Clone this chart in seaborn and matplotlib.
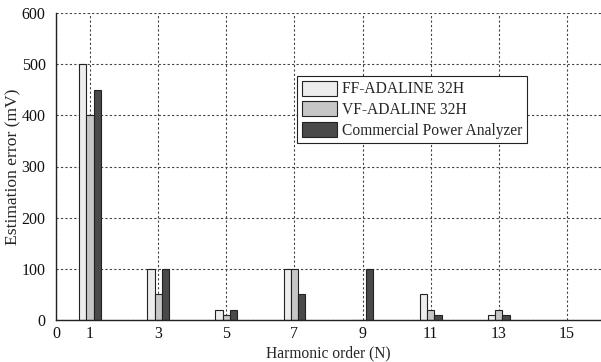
import matplotlib
matplotlib.use("Agg")
import matplotlib.pyplot as plt
import seaborn as sns
import pandas as pd

harmonics = [1, 3, 5, 7, 9, 11, 13]
ff_adaline = [500, 100, 20, 100, 0, 50, 10]
vf_adaline = [400, 50, 10, 100, 0, 20, 20]
commercial = [450, 100, 20, 50, 100, 10, 10]
series_names = ["FF-ADALINE 32H", "VF-ADALINE 32H", "Commercial Power Analyzer"]
colors = ["#ededed", "#c6c6c6", "#4a4a4a"]
xticks = [0, 1, 3, 5, 7, 9, 11, 13, 15]
yticks = [0, 100, 200, 300, 400, 500, 600]

rows = []
for name, vals in zip(series_names, [ff_adaline, vf_adaline, commercial]):
    for h, v in zip(harmonics, vals):
        rows.append({"Harmonic": h, "Error": v, "Method": name})
df = pd.DataFrame(rows)

sns.set_style("white")
plt.rcParams["font.family"] = ["Liberation Serif", "DejaVu Serif"]

fig = plt.figure(figsize=(6.01, 3.62), dpi=100)
ax = fig.add_axes([56 / 601, 1 - 320 / 362, 1 - 56 / 601, (320 - 13) / 362])

sns.barplot(data=df, x="Harmonic", y="Error", hue="Method", hue_order=series_names,
            palette=colors, native_scale=True, width=0.32, edgecolor="#222222",
            linewidth=0.8, saturation=1, ax=ax, errorbar=None)

ax.set_xlim(0, 16)
ax.set_ylim(0, 600)
ax.set_xticks(xticks)
ax.set_xticklabels([str(t) for t in xticks])
ax.set_yticks(yticks)
ax.grid(True, linestyle=(0, (2, 2)), color="#444444", linewidth=0.8)
ax.set_axisbelow(True)
for s in ["left", "bottom"]:
    ax.spines[s].set_color("#222222")
    ax.spines[s].set_linewidth(1.0)
ax.spines["top"].set_visible(False)
ax.spines["right"].set_visible(False)
ax.tick_params(direction="in", length=4, labelsize=11.5, colors="#111111")
ax.tick_params(axis="y", pad=7.5)
ax.tick_params(axis="x", pad=4)
ax.set_xlabel("Harmonic order (N)", fontsize=11.2, labelpad=3)
ax.set_ylabel("Estimation error (mV)", fontsize=12.6)
ax.yaxis.set_label_coords(-0.063, 0.5)

leg = ax.legend(loc="upper left", bbox_to_anchor=(0.442, 0.795), fontsize=11.2,
                frameon=True, fancybox=False, edgecolor="#222222", framealpha=1,
                handlelength=2.25, handleheight=1.1, borderpad=0.3, labelspacing=0.25,
                handletextpad=0.35, borderaxespad=0)
leg.get_frame().set_linewidth(0.8)

fig.savefig("out.png", dpi=100, facecolor="white")
